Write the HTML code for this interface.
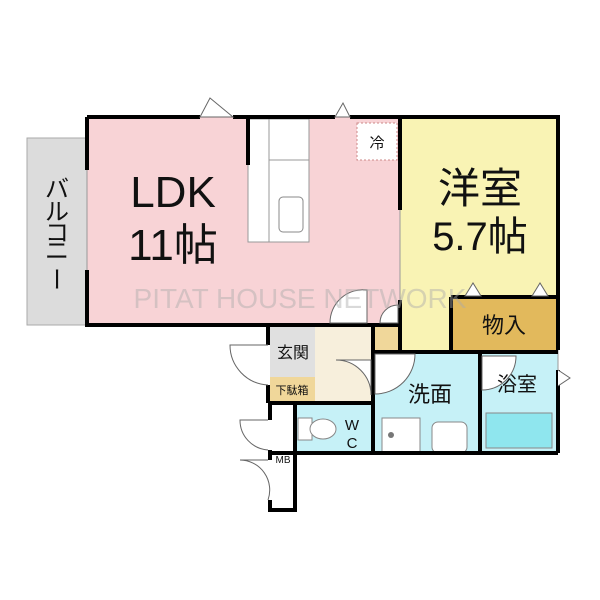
<!DOCTYPE html>
<html><head><meta charset="utf-8"><style>
body{margin:0;background:#fff}
svg{display:block}
text{font-family:"Liberation Sans","Noto Sans CJK JP",sans-serif;fill:#111}
</style></head><body>
<svg width="600" height="600" viewBox="0 0 600 600" xmlns="http://www.w3.org/2000/svg">
<rect x="27" y="138" width="60" height="187" fill="#dcdcdc" stroke="#aaa" stroke-width="1"/>
<g font-size="24" text-anchor="middle">
<text x="57" y="197">バ</text>
<text x="57" y="220">ル</text>
<text x="57" y="241">コ</text>
<text x="57" y="259">ニ</text>
<text x="57" y="288" transform="rotate(90 57 279)">ー</text>
</g>
<rect x="87" y="117" width="313" height="206" fill="#f8d3d6"/>
<rect x="400" y="117" width="158" height="233" fill="#f9f3b4"/>
<rect x="451" y="297" width="107" height="53" fill="#e2b95c"/>
<rect x="270" y="325" width="103" height="78" fill="#f7efdc"/>
<rect x="270" y="325" width="45" height="52" fill="#e0e0e0"/>
<rect x="270" y="377" width="45" height="25" fill="#f0d79a"/>
<rect x="373" y="325" width="27" height="27" fill="#f0d79a"/>
<rect x="373" y="352" width="107" height="101" fill="#c6f1f7"/>
<rect x="480" y="352" width="78" height="101" fill="#c6f1f7"/>
<rect x="295" y="403" width="78" height="50" fill="#c6f1f7"/>
<rect x="270" y="403" width="25" height="107" fill="#fff"/>
<g stroke="#999" stroke-width="1">
<line x1="87" y1="170" x2="87" y2="270"/>
<line x1="400" y1="210" x2="400" y2="300"/>
<line x1="558" y1="350" x2="558" y2="370"/>
</g>
<rect x="248" y="119" width="61" height="123" fill="#fff" stroke="#999" stroke-width="1"/>
<line x1="269" y1="119" x2="269" y2="242" stroke="#999"/>
<line x1="269" y1="160" x2="309" y2="160" stroke="#999"/>
<rect x="279" y="197" width="24" height="35" rx="4" fill="#fff" stroke="#888"/>
<rect x="357" y="123" width="40" height="37" fill="#fff" stroke="#c88" stroke-dasharray="2,2"/>
<text x="377" y="148" font-size="15" text-anchor="middle">冷</text>
<rect x="486" y="413" width="66" height="35" fill="#8fe6ee" stroke="#888"/>
<rect x="382" y="418" width="38" height="35" fill="#fff" stroke="#888"/>
<circle cx="391" cy="435" r="3" fill="#777"/>
<rect x="432" y="422" width="35" height="31" rx="6" fill="#fff" stroke="#888"/>
<rect x="298" y="418" width="14" height="22" fill="#fff" stroke="#888"/>
<ellipse cx="323" cy="429" rx="13" ry="10" fill="#fff" stroke="#888"/>
<g stroke="#000" stroke-width="4" fill="none">
<path d="M87 117 H200 M233 117 H335 M350 117 H400 M87 117 V170 M87 270 V325 H248 M400 117 V210 M400 300 V352"/>
<path d="M400 117 H558 V350 M558 370 V453 M248 325 H400"/>
<path d="M268 325 V345 M268 385 V403 M373 325 V453 M373 352 H400 M400 352 H558 M451 297 V350 M451 297 H558"/>
<path d="M480 352 V453 M270 403 H373 M295 403 V453 M268 453 H558 M270 403 V420 M270 450 V460 M270 500 V510 H295 V453"/>
<path d="M248 119 V165"/>
</g>
<g stroke="#666" stroke-width="1" fill="#fff">
<path d="M200 117 L210 98 L233 117 Z"/>
<path d="M335 117 L343 103 L350 117 Z"/>
<path d="M367 323 V290 A33 33 0 0 0 330 323 Z"/>
<path d="M398 323 V305 A18 18 0 0 0 380 323 Z"/>
<path d="M268 345 H230 A40 40 0 0 0 268 385"/>
<path d="M371 360 V395 A35 35 0 0 0 336 360 Z"/>
<path d="M375 354 H415 A40 40 0 0 1 375 394 Z"/>
<path d="M482 356 V390 A34 34 0 0 0 516 356 Z"/>
<path d="M268 420 H240 A30 30 0 0 0 268 450"/>
<path d="M268 460 H240 A30 30 0 0 1 268 500"/>
<path d="M465 296 L473 283 L481 296 Z"/>
<path d="M532 296 L540 283 L548 296 Z"/>
<path d="M558 370 L570 378 L558 386"/>
</g>
<text x="173" y="207" font-size="44" text-anchor="middle">LDK</text>
<text x="173" y="260" font-size="44" text-anchor="middle">11帖</text>
<text x="480" y="203" font-size="42" text-anchor="middle">洋室</text>
<text x="480" y="250" font-size="40" text-anchor="middle">5.7帖</text>
<text x="504" y="333" font-size="22" text-anchor="middle">物入</text>
<text x="293" y="358" font-size="16" text-anchor="middle">玄関</text>
<text x="292" y="394" font-size="11" text-anchor="middle">下駄箱</text>
<text x="430" y="402" font-size="22" text-anchor="middle">洗面</text>
<text x="517" y="391" font-size="20" text-anchor="middle">浴室</text>
<text x="352" y="430" font-size="15" text-anchor="middle">W</text>
<text x="352" y="448" font-size="15" text-anchor="middle">C</text>
<text x="283" y="463" font-size="10" text-anchor="middle">MB</text>
<text x="300" y="308" font-size="28" text-anchor="middle" style="fill:rgba(170,170,170,0.45)">PITAT HOUSE NETWORK</text>
</svg>
</body></html>
